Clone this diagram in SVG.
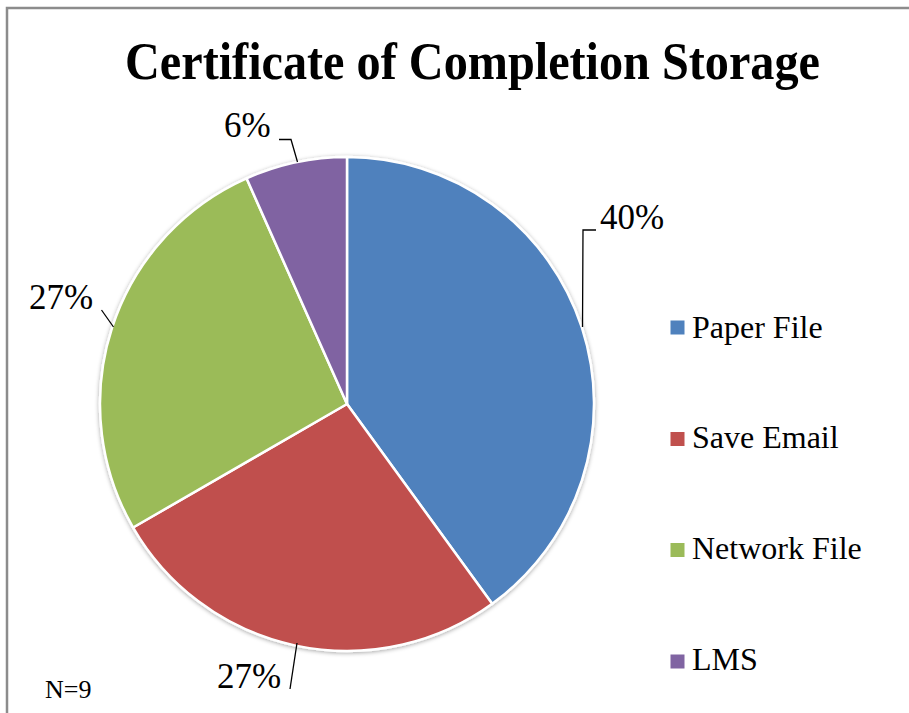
<svg xmlns="http://www.w3.org/2000/svg" width="909" height="713" viewBox="0 0 909 713">
  <defs>
    <filter id="shadow" x="-10%" y="-10%" width="120%" height="120%">
      <feDropShadow dx="0" dy="1" stdDeviation="2" flood-color="#000" flood-opacity="0.35"/>
    </filter>
  </defs>
  <style>
    .slice { stroke: #ffffff; stroke-width: 2.5; stroke-linejoin: round; }
    .lbl { font-family: "Liberation Serif", "Times New Roman", serif; fill: #000; }
    .pct { font-size: 35px; }
    .leg { font-size: 32px; }
    .leader { fill: none; stroke: #000; stroke-width: 1.3; }
  </style>
  <rect x="0" y="0" width="909" height="713" fill="#ffffff"/>
  <rect id="frame" x="7" y="8" width="930" height="740" fill="none" stroke="#8c8c8c" stroke-width="2.5"/>

  <text id="title" class="lbl" x="125" y="79" font-size="52" font-weight="bold" textLength="695" lengthAdjust="spacingAndGlyphs">Certificate of Completion Storage</text>

  <g id="pie" filter="url(#shadow)">
    <g id="slice-paper-file"><path class="slice" fill="#4F81BD" d="M347,404 L347,157 A247,247 0 0 1 492.18,603.83 Z"/></g>
    <g id="slice-save-email"><path class="slice" fill="#C0504D" d="M347,404 L492.18,603.83 A247,247 0 0 1 133.09,527.5 Z"/></g>
    <g id="slice-network-file"><path class="slice" fill="#9BBB59" d="M347,404 L133.09,527.5 A247,247 0 0 1 246.54,178.35 Z"/></g>
    <g id="slice-lms"><path class="slice" fill="#8064A2" d="M347,404 L246.54,178.35 A247,247 0 0 1 347,157 Z"/></g>
  </g>

  <g id="connectors">
    <polyline class="leader" points="279,139.5 291,139.5 297.5,162"/>
    <polyline class="leader" points="596,230 583,230 582.5,327"/>
    <polyline class="leader" points="101.5,310 113.5,327"/>
    <polyline class="leader" points="297,643 290,689"/>
  </g>

  <g id="data-labels">
    <text id="lbl-lms" class="lbl pct" x="224" y="137">6%</text>
    <text id="lbl-paper" class="lbl pct" x="600" y="229">40%</text>
    <text id="lbl-network" class="lbl pct" x="29" y="309">27%</text>
    <text id="lbl-email" class="lbl pct" x="217" y="688">27%</text>
  </g>

  <g id="legend">
    <g id="leg-paper-file"><rect x="670.5" y="320.5" width="14" height="14" fill="#4F81BD"/><text class="lbl leg" x="692" y="338">Paper File</text></g>
    <g id="leg-save-email"><rect x="670.5" y="432" width="14" height="14" fill="#C0504D"/><text class="lbl leg" x="692" y="448">Save Email</text></g>
    <g id="leg-network-file"><rect x="670.5" y="543" width="14" height="14" fill="#9BBB59"/><text class="lbl leg" x="692" y="559">Network File</text></g>
    <g id="leg-lms"><rect x="670.5" y="654.5" width="14" height="14" fill="#8064A2"/><text class="lbl leg" x="692" y="670">LMS</text></g>
  </g>

  <text id="n-note" class="lbl" x="45" y="698" font-size="26">N=9</text>
</svg>
